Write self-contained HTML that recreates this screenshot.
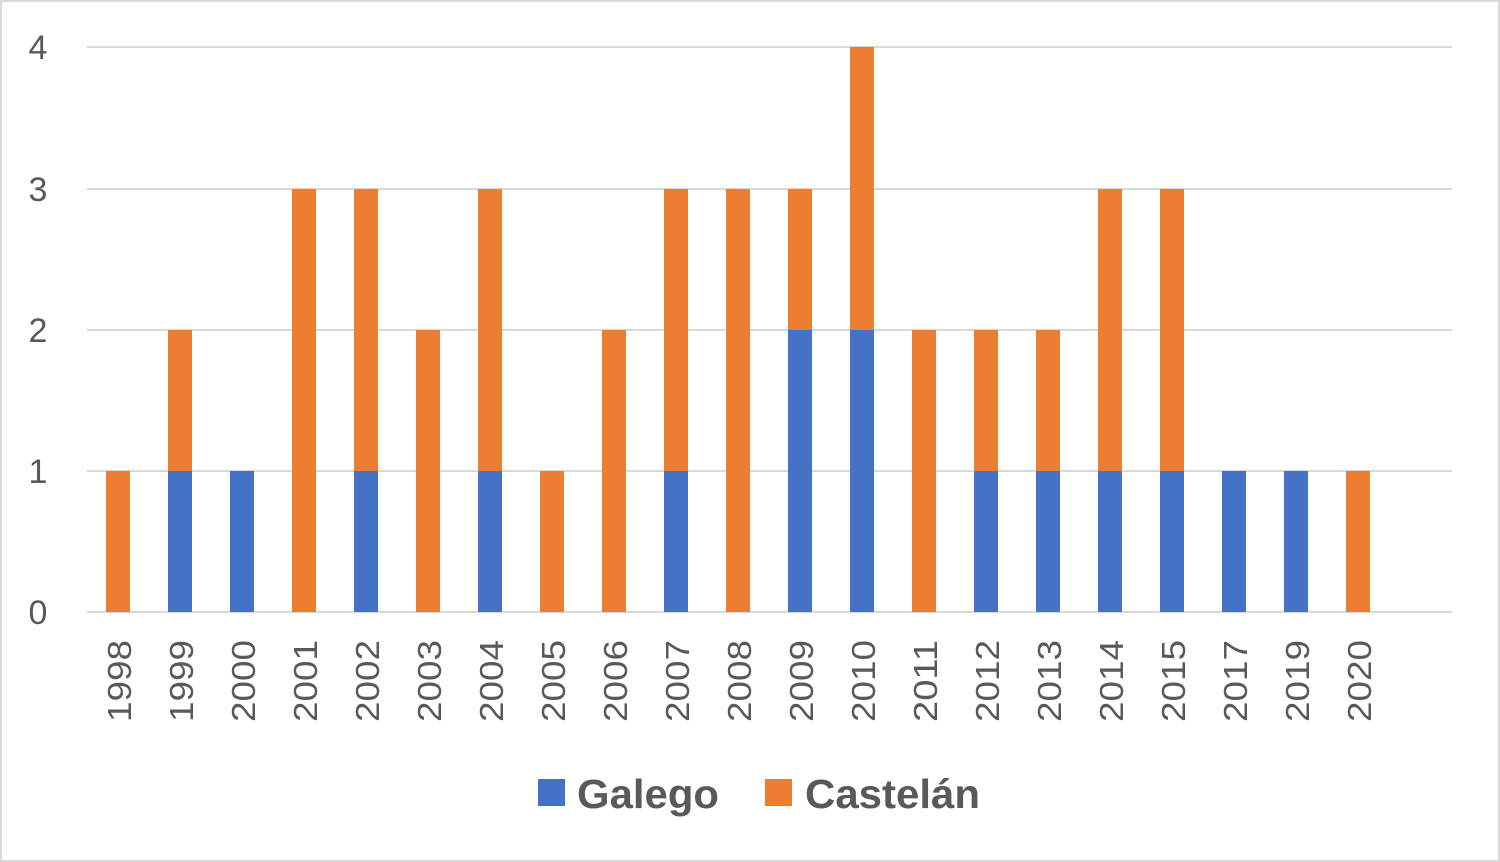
<!DOCTYPE html>
<html><head><meta charset="utf-8"><style>
html,body{margin:0;padding:0;background:#fff;}
svg{display:block;font-family:"Liberation Sans",sans-serif;}
</style></head><body>
<svg width="1500" height="862" viewBox="0 0 1500 862" xmlns="http://www.w3.org/2000/svg">
<rect x="1" y="1" width="1498" height="860" fill="#fff" stroke="#d9d9d9" stroke-width="2"/>
<g stroke="#d9d9d9" stroke-width="2">
<line x1="87" y1="47" x2="1452" y2="47"/>
<line x1="87" y1="189" x2="1452" y2="189"/>
<line x1="87" y1="330" x2="1452" y2="330"/>
<line x1="87" y1="471" x2="1452" y2="471"/>
<line x1="87" y1="612" x2="1452" y2="612"/>
</g>
<g fill="#595959" font-size="34" text-anchor="middle">
<text x="38" y="59">4</text>
<text x="38" y="201">3</text>
<text x="38" y="342">2</text>
<text x="38" y="483">1</text>
<text x="38" y="624">0</text>
</g>
<g>
<rect x="106" y="471" width="24" height="141" fill="#ed7d31"/>
<rect x="168" y="471" width="24" height="141" fill="#4472c4"/>
<rect x="168" y="330" width="24" height="141" fill="#ed7d31"/>
<rect x="230" y="471" width="24" height="141" fill="#4472c4"/>
<rect x="292" y="189" width="24" height="423" fill="#ed7d31"/>
<rect x="354" y="471" width="24" height="141" fill="#4472c4"/>
<rect x="354" y="189" width="24" height="282" fill="#ed7d31"/>
<rect x="416" y="330" width="24" height="282" fill="#ed7d31"/>
<rect x="478" y="471" width="24" height="141" fill="#4472c4"/>
<rect x="478" y="189" width="24" height="282" fill="#ed7d31"/>
<rect x="540" y="471" width="24" height="141" fill="#ed7d31"/>
<rect x="602" y="330" width="24" height="282" fill="#ed7d31"/>
<rect x="664" y="471" width="24" height="141" fill="#4472c4"/>
<rect x="664" y="189" width="24" height="282" fill="#ed7d31"/>
<rect x="726" y="189" width="24" height="423" fill="#ed7d31"/>
<rect x="788" y="330" width="24" height="282" fill="#4472c4"/>
<rect x="788" y="189" width="24" height="141" fill="#ed7d31"/>
<rect x="850" y="330" width="24" height="282" fill="#4472c4"/>
<rect x="850" y="47" width="24" height="283" fill="#ed7d31"/>
<rect x="912" y="330" width="24" height="282" fill="#ed7d31"/>
<rect x="974" y="471" width="24" height="141" fill="#4472c4"/>
<rect x="974" y="330" width="24" height="141" fill="#ed7d31"/>
<rect x="1036" y="471" width="24" height="141" fill="#4472c4"/>
<rect x="1036" y="330" width="24" height="141" fill="#ed7d31"/>
<rect x="1098" y="471" width="24" height="141" fill="#4472c4"/>
<rect x="1098" y="189" width="24" height="282" fill="#ed7d31"/>
<rect x="1160" y="471" width="24" height="141" fill="#4472c4"/>
<rect x="1160" y="189" width="24" height="282" fill="#ed7d31"/>
<rect x="1222" y="471" width="24" height="141" fill="#4472c4"/>
<rect x="1284" y="471" width="24" height="141" fill="#4472c4"/>
<rect x="1346" y="471" width="24" height="141" fill="#ed7d31"/>
</g>
<g fill="#595959" font-size="33" text-anchor="end">
<text transform="translate(131,640) rotate(-90)" textLength="82" lengthAdjust="spacingAndGlyphs">1998</text>
<text transform="translate(193,640) rotate(-90)" textLength="82" lengthAdjust="spacingAndGlyphs">1999</text>
<text transform="translate(255,640) rotate(-90)" textLength="82" lengthAdjust="spacingAndGlyphs">2000</text>
<text transform="translate(317,640) rotate(-90)" textLength="82" lengthAdjust="spacingAndGlyphs">2001</text>
<text transform="translate(379,640) rotate(-90)" textLength="82" lengthAdjust="spacingAndGlyphs">2002</text>
<text transform="translate(441,640) rotate(-90)" textLength="82" lengthAdjust="spacingAndGlyphs">2003</text>
<text transform="translate(503,640) rotate(-90)" textLength="82" lengthAdjust="spacingAndGlyphs">2004</text>
<text transform="translate(565,640) rotate(-90)" textLength="82" lengthAdjust="spacingAndGlyphs">2005</text>
<text transform="translate(627,640) rotate(-90)" textLength="82" lengthAdjust="spacingAndGlyphs">2006</text>
<text transform="translate(689,640) rotate(-90)" textLength="82" lengthAdjust="spacingAndGlyphs">2007</text>
<text transform="translate(751,640) rotate(-90)" textLength="82" lengthAdjust="spacingAndGlyphs">2008</text>
<text transform="translate(813,640) rotate(-90)" textLength="82" lengthAdjust="spacingAndGlyphs">2009</text>
<text transform="translate(875,640) rotate(-90)" textLength="82" lengthAdjust="spacingAndGlyphs">2010</text>
<text transform="translate(937,640) rotate(-90)" textLength="82" lengthAdjust="spacingAndGlyphs">2011</text>
<text transform="translate(999,640) rotate(-90)" textLength="82" lengthAdjust="spacingAndGlyphs">2012</text>
<text transform="translate(1061,640) rotate(-90)" textLength="82" lengthAdjust="spacingAndGlyphs">2013</text>
<text transform="translate(1123,640) rotate(-90)" textLength="82" lengthAdjust="spacingAndGlyphs">2014</text>
<text transform="translate(1185,640) rotate(-90)" textLength="82" lengthAdjust="spacingAndGlyphs">2015</text>
<text transform="translate(1247,640) rotate(-90)" textLength="82" lengthAdjust="spacingAndGlyphs">2017</text>
<text transform="translate(1309,640) rotate(-90)" textLength="82" lengthAdjust="spacingAndGlyphs">2019</text>
<text transform="translate(1371,640) rotate(-90)" textLength="82" lengthAdjust="spacingAndGlyphs">2020</text>
</g>
<rect x="538" y="779" width="27" height="27" fill="#4472c4"/>
<text x="577" y="808" fill="#595959" font-size="41" font-weight="bold" textLength="142" lengthAdjust="spacingAndGlyphs">Galego</text>
<rect x="765" y="779" width="27" height="27" fill="#ed7d31"/>
<text x="805" y="808" fill="#595959" font-size="41" font-weight="bold" textLength="175" lengthAdjust="spacingAndGlyphs">Castelán</text>
</svg>
</body></html>
